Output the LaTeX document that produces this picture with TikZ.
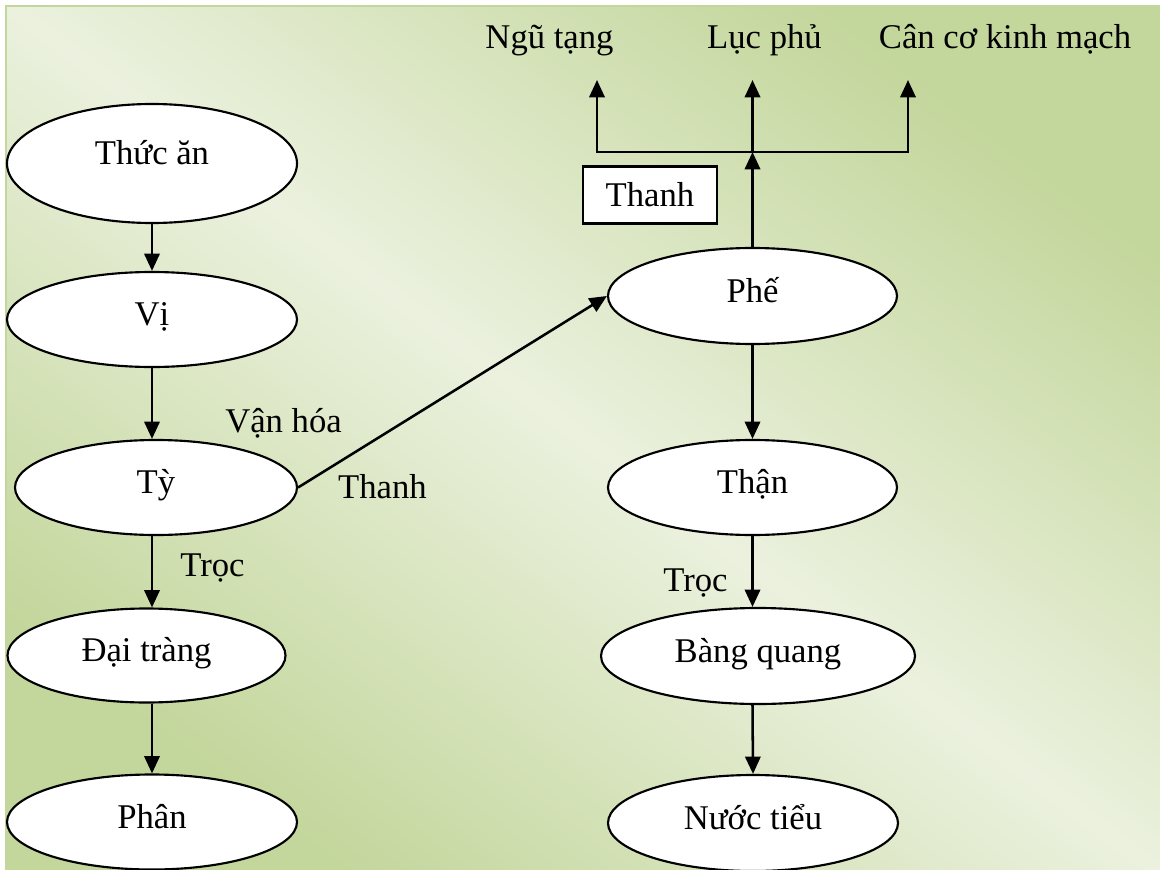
\documentclass[tikz,border=0pt]{standalone}
\usepackage{fontspec}
\setmainfont{Liberation Serif}
\usetikzlibrary{shapes.geometric,arrows.meta}

\definecolor{bgdark}{HTML}{C3D69B}
\definecolor{bglight}{HTML}{EBF1DE}
\definecolor{bgedge}{HTML}{C3D69B}

\tikzset{
  organ/.style={ellipse, draw=black, line width=1.6pt, fill=white, inner sep=0pt,
    font=\fontsize{26}{30}\selectfont, text height=18pt, text depth=9pt},
  flow/.style={line width=1.9pt, -{Triangle[length=13pt,width=11.5pt]}},
  twoway/.style={line width=1.9pt, line join=miter,
    {Triangle[length=13pt,width=11.5pt]}-{Triangle[length=13pt,width=11.5pt]}},
  tag/.style={font=\fontsize{26}{30}\selectfont, anchor=base, inner sep=0pt},
  notebox/.style={draw=black, line width=1.6pt, fill=white, inner sep=0pt,
    font=\fontsize{26}{30}\selectfont, text height=20pt, text depth=2pt,
    minimum width=100.5pt, minimum height=42.75pt}
}

\begin{document}
\begin{tikzpicture}[x=0.75pt,y=-0.75pt]
  \useasboundingbox (0,0) rectangle (1160,870);
  % page background with a soft green gradient and a frame edge
  \fill[white] (0,0) rectangle (1160,870);
  \shade[top color=bgdark, bottom color=bgdark, middle color=bglight, shading angle=-37]
    (6,6) rectangle (1160,870);
  \draw[bgedge, line width=2pt] (6,870) -- (6,6) -- (1160,6);

  % left column: digestion
  \node[organ, minimum width=217.5pt, minimum height=89.25pt, text depth=17pt] (food) at (152,163.5) {Thức ăn};
  \node[organ, minimum width=217.5pt, minimum height=71.25pt] (vi)   at (152,319.5) {Vị};
  \node[organ, minimum width=211.5pt, minimum height=71.25pt] (ty)   at (156,487.5) {Tỳ};
  \node[organ, minimum width=208.5pt, minimum height=70.5pt]  (dt)   at (146.5,655.5) {Đại tràng};
  \node[organ, minimum width=217.5pt, minimum height=71.25pt] (phan) at (152,822) {Phân};

  % right column: lungs, kidneys, bladder
  \node[organ, minimum width=216.75pt, minimum height=72pt]    (phe)  at (752.5,296) {Phế};
  \node[organ, minimum width=216.75pt, minimum height=71.25pt] (than) at (752.5,487.5) {Thận};
  \node[organ, minimum width=235.5pt, minimum height=72pt]     (bq)   at (758,656) {Bàng quang};
  \node[organ, minimum width=217.5pt, minimum height=72pt]     (nt)   at (753,823) {Nước tiểu};

  % destinations of the clear part
  \node[tag] (ngutang) at (549.5,49) {Ngũ tạng};
  \node[tag] (lucphu)  at (764.5,49) {Lục phủ};
  \node[tag] (canco)   at (1005,49)  {Cân cơ kinh mạch};
  \node[notebox] (thanhbox) at (650,195) {Thanh};

  % edge labels
  \node[tag] (vanhoa) at (283.5,432) {Vận hóa};
  \node[tag] (thanh)  at (382.5,498) {Thanh};
  \node[tag] (trocL)  at (212.5,576) {Trọc};
  \node[tag] (trocR)  at (695.5,591) {Trọc};

  % left column arrows
  \draw[flow] (food.south) -- (vi.north);
  \draw[flow] (vi.south) -- (vi.south |- ty.north);
  \draw[flow] (ty.south -| vi.south) -- (dt.north -| vi.south);
  \draw[flow] (dt.south -| vi.south) -- (phan.north);

  % spleen to lungs
  \draw[flow] (ty.east) -- (phe.west);

  % right column arrows
  \draw[flow] (phe.south) -- (than.north);
  \draw[flow] (than.south) -- (than.south |- bq.north);
  \draw[flow] (bq.south -| than.south) -- (nt.north);

  % distribution upward from the lungs
  \coordinate (hub)  at (752.5,152);
  \coordinate (lft)  at (597,152);
  \coordinate (rgt)  at (908,152);
  \coordinate (tipL) at (597,80);
  \coordinate (tipM) at (752.5,80);
  \coordinate (tipR) at (908,80);
  \draw[flow] (phe.north) -- (hub);
  \draw[twoway] (tipL) -- (lft) -- (rgt) -- (tipR);
  \draw[flow] (hub) -- (tipM);
\end{tikzpicture}
\end{document}
